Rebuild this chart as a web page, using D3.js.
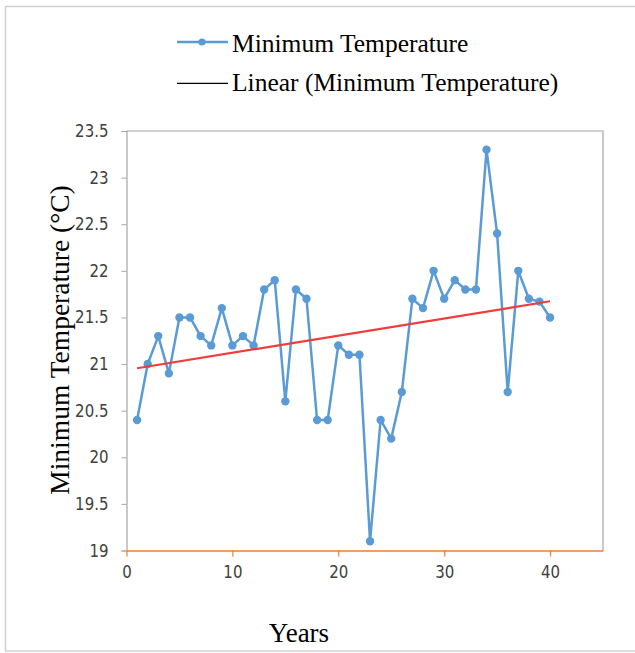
<!DOCTYPE html>
<html><head><meta charset="utf-8">
<script src="https://cdn.jsdelivr.net/npm/d3@7"></script>
<style>body{margin:0;background:#fff}</style>
</head><body>
<svg id="c" width="635" height="653"></svg>
<script>
const years = d3.range(1, 41);
const minTemp = [20.4,21.0,21.3,20.9,21.5,21.5,21.3,21.2,21.6,21.2,
                 21.3,21.2,21.8,21.9,20.6,21.8,21.7,20.4,20.4,21.2,
                 21.1,21.1,19.1,20.4,20.2,20.7,21.7,21.6,22.0,21.7,
                 21.9,21.8,21.8,23.3,22.4,20.7,22.0,21.7,21.67,21.5];
const yTicks = [19,19.5,20,20.5,21,21.5,22,22.5,23,23.5];
const xTicks = [0,10,20,30,40];
const legendLabels = ["Minimum Temperature","Linear (Minimum Temperature)"];

const svg = d3.select("#c");
const L=126.5, R=603, T=131, B=550.5;
const x = d3.scaleLinear().domain([0,45]).range([L,R]);
const y = d3.scaleLinear().domain([19,23.5]).range([B,T]);

// outer frame
svg.append("rect").attr("x",5.5).attr("y",6.5).attr("width",640).attr("height",644.5)
  .attr("fill","none").attr("stroke","#d0d0d0").attr("stroke-width",1.5);

// plot border (top/right)
svg.append("path").attr("d",`M${L},${T}H${R}V${B}`).attr("fill","none").attr("stroke","#a6a6a6").attr("stroke-width",1.2);

// y axis
const ya = svg.append("g").attr("transform",`translate(${L},0)`)
  .call(d3.axisLeft(y).tickValues(yTicks).tickSize(5).tickPadding(13).tickFormat(d=>String(d)));
ya.select(".domain").attr("stroke","#a6a6a6").attr("stroke-width",1.2);
ya.selectAll(".tick line").attr("stroke","#a6a6a6");
ya.selectAll("text").attr("font-family","DejaVu Sans").attr("font-size",15).attr("fill","#404040")
  .attr("transform","scale(1,1.15)");

// x axis
const xa = svg.append("g").attr("transform",`translate(0,${B})`)
  .call(d3.axisBottom(x).tickValues(xTicks).tickSize(6).tickPadding(7).tickSizeOuter(0));
xa.select(".domain").attr("stroke","#ed7d31").attr("stroke-width",1.5);
xa.selectAll(".tick line").attr("stroke","#ed7d31").attr("stroke-width",1.2);
xa.selectAll("text").attr("font-family","DejaVu Sans").attr("font-size",15).attr("fill","#404040")
  .attr("transform","scale(1,1.15)");

// series line
const data = years.map((d,i)=>({x:d,y:minTemp[i]}));
svg.append("path").datum(data)
  .attr("d",d3.line().x(d=>x(d.x)).y(d=>y(d.y)))
  .attr("fill","none").attr("stroke","#5b9bd5").attr("stroke-width",2.5).attr("stroke-linejoin","round");
svg.selectAll("circle.pt").data(data).enter().append("circle")
  .attr("cx",d=>x(d.x)).attr("cy",d=>y(d.y)).attr("r",4.2).attr("fill","#5b9bd5");

// linear trend (least squares)
const mx=d3.mean(years), my=d3.mean(minTemp);
const slope=d3.sum(years,(d,i)=>(d-mx)*(minTemp[i]-my))/d3.sum(years,d=>(d-mx)*(d-mx));
const icpt=my-slope*mx;
const x0=years[0], x1=years[years.length-1];
svg.append("line").attr("x1",x(x0)).attr("y1",y(icpt+slope*x0)).attr("x2",x(x1)).attr("y2",y(icpt+slope*x1))
  .attr("stroke","#f03c3c").attr("stroke-width",2.2);

// axis titles
svg.append("text").attr("transform",`translate(69,340) rotate(-90)`).attr("text-anchor","middle")
  .attr("font-family","Liberation Serif").attr("font-size",27.5).attr("fill","#000").text("Minimum Temperature (°C)");
svg.append("text").attr("x",299).attr("y",642).attr("text-anchor","middle")
  .attr("font-family","Liberation Serif").attr("font-size",27).attr("fill","#000").text("Years");

// legend
const lg = svg.append("g");
lg.append("line").attr("x1",177).attr("x2",228).attr("y1",42).attr("y2",42).attr("stroke","#5b9bd5").attr("stroke-width",2.5);
lg.append("circle").attr("cx",202).attr("cy",42).attr("r",3.6).attr("fill","#5b9bd5");
lg.append("text").attr("x",232).attr("y",51.5).attr("font-family","Liberation Serif").attr("font-size",25.5).text(legendLabels[0]);
lg.append("line").attr("x1",177).attr("x2",228).attr("y1",83.3).attr("y2",83.3).attr("stroke","#000").attr("stroke-width",1.2);
lg.append("text").attr("x",232).attr("y",91).attr("font-family","Liberation Serif").attr("font-size",25.5).text(legendLabels[1]);
</script>
</body></html>
